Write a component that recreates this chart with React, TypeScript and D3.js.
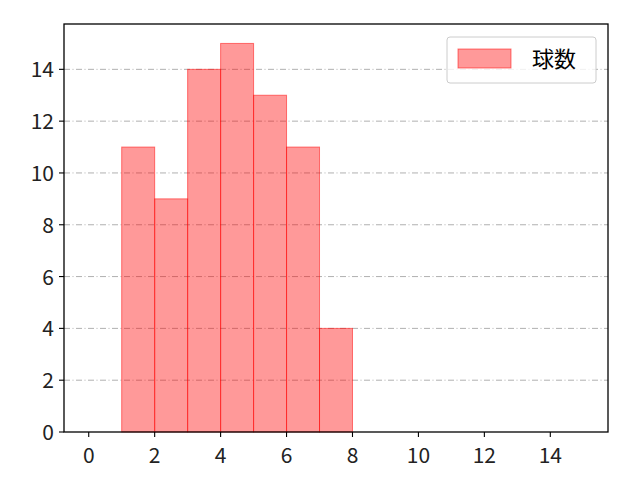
import * as d3 from 'd3';

// bins start at 1, width 1
const binStarts = [1, 2, 3, 4, 5, 6, 7];
const counts = [11, 9, 14, 15, 13, 11, 4];
const xTicks = [0, 2, 4, 6, 8, 10, 12, 14];
const yTicks = [0, 2, 4, 6, 8, 10, 12, 14];
const seriesLabel = '球数';

const width = 640;
const height = 480;
const margin = { top: 24, right: 32, bottom: 48, left: 64 };
const font = '"Noto Sans CJK JP", "Noto Sans", sans-serif';

export default function App() {
  const x = d3.scaleLinear().domain([-0.75, 15.75]).range([margin.left, width - margin.right]);
  const y = d3.scaleLinear().domain([0, 15.75]).range([height - margin.bottom, margin.top]);
  const bottom = height - margin.bottom;

  return (
    <svg width={width} height={height} style={{ position: 'absolute', left: 0, top: 0, background: '#fff' }}>
      {yTicks.filter((t) => t > 0).map((t) => (
        <line key={`g-${t}`} x1={margin.left} x2={width - margin.right} y1={y(t)} y2={y(t)}
          stroke="#b0b0b0" strokeWidth={1} strokeDasharray="6 2.5 1 2.5" />
      ))}
      {binStarts.map((b, i) => (
        <rect key={b} x={x(b)} y={y(counts[i])} width={x(b + 1) - x(b)} height={bottom - y(counts[i])}
          fill="rgba(255,0,0,0.4)" stroke="rgba(255,0,0,0.5)" strokeWidth={1} />
      ))}
      <rect x={margin.left} y={margin.top} width={width - margin.left - margin.right} height={height - margin.top - margin.bottom}
        fill="none" stroke="#000" strokeWidth={1.3} />
      {xTicks.map((t) => (
        <g key={`x-${t}`}>
          <line x1={x(t)} x2={x(t)} y1={bottom} y2={bottom + 5} stroke="#000" strokeWidth={1.1} />
          <text x={x(t)} y={bottom + 31} textAnchor="middle" fontSize={21} fontFamily={font} fill="#222">{t}</text>
        </g>
      ))}
      {yTicks.map((t) => (
        <g key={`y-${t}`}>
          <line x1={margin.left - 5} x2={margin.left} y1={y(t)} y2={y(t)} stroke="#000" strokeWidth={1.1} />
          <text x={margin.left - 10} y={y(t) + 8} textAnchor="end" fontSize={21} fontFamily={font} fill="#222">{t}</text>
        </g>
      ))}
      <g transform="translate(447,37)">
        <rect x={0} y={0} width={149} height={46} rx={3} fill="rgba(255,255,255,0.8)" stroke="#ccc" strokeWidth={1} />
        <rect x={11} y={12} width={53} height={19} fill="rgba(255,0,0,0.4)" stroke="rgba(255,0,0,0.5)" />
        <text x={85} y={30} fontSize={22} fontFamily={font} fill="#000">{seriesLabel}</text>
      </g>
    </svg>
  );
}
